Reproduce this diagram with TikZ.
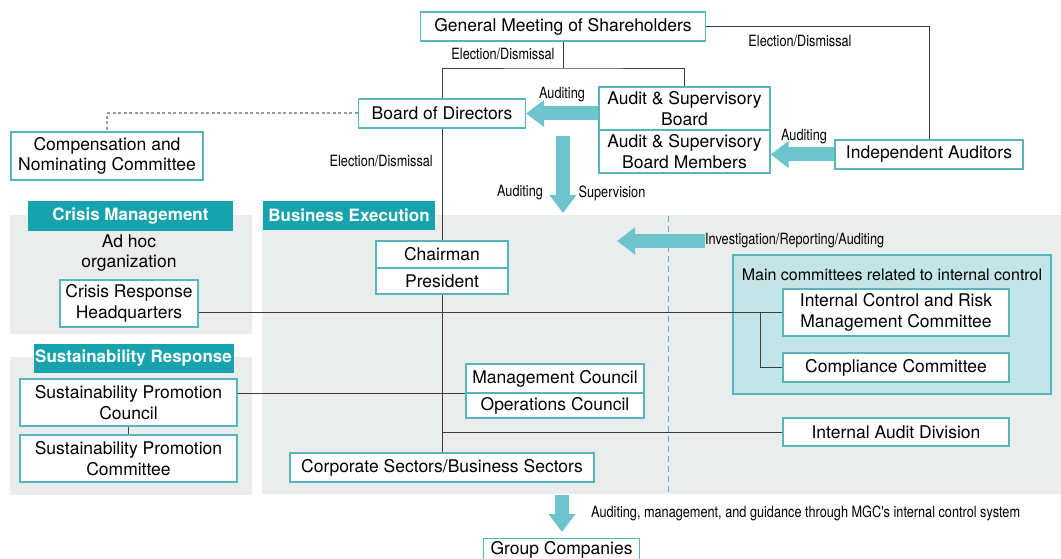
\documentclass[tikz,border=0pt]{standalone}
\usepackage{fontspec}
\setmainfont{TeX Gyre Heros}
\newfontfamily\narrowfont[FakeStretch=0.82]{TeX Gyre Heros}
\usetikzlibrary{arrows.meta}
\definecolor{tealhead}{HTML}{17A3AE}
\definecolor{tealline}{HTML}{55B6BF}
\definecolor{tealarrow}{HTML}{6EC4CC}
\definecolor{tealpale}{HTML}{C4E5E8}
\definecolor{panelgray}{HTML}{EBECEC}
\definecolor{linegray}{HTML}{3C3C3C}
\definecolor{dotgray}{HTML}{9A9A9A}
\begin{document}
\begin{tikzpicture}
[
    x=1pt,y=-1pt,
    box/.style={draw=tealline,fill=white,line width=1.2pt,align=center,inner sep=0pt,font=\fontsize{17.5}{20.5}\selectfont},
    head/.style={fill=tealhead,text=white,inner sep=0pt,font=\bfseries\fontsize{17}{20}\selectfont},
    panel/.style={fill=panelgray},
    frame/.style={draw=tealline,fill=tealpale,line width=1.2pt},
    lbl/.style={font=\narrowfont\fontsize{15.5}{18}\selectfont,inner sep=0pt},
    link/.style={draw=linegray,line width=0.9pt},
    dotline/.style={draw=dotgray,line width=2pt,dash pattern=on 3pt off 2.5pt},
    dashline/.style={draw=tealline,line width=0.9pt,dash pattern=on 6pt off 4pt},
    fat/.style={draw=tealarrow,line width=14pt,-{Triangle[width=26pt,length=18pt]}},
]
\useasboundingbox (0,0) rectangle (1061,559);

% grey panels
\fill[panel] (10,215) rectangle (252,334);
\fill[panel] (10,357) rectangle (252,495);
\fill[panel] (262,215) rectangle (1061,494);
\filldraw[frame] (733,255) rectangle (1051,394);
\draw[dashline] (668,216) -- (668,493);

% section headers
\node (crisishd) at (130.5,216) [head,minimum width=205,minimum height=30] {Crisis Management};
\node (bizhd) at (349,215.5) [head,minimum width=172,minimum height=29] {Business Execution};
\node (susthd) at (133.5,358.5) [head,minimum width=200,minimum height=29] {Sustainability Response};

% top of the structure
\node (gms) at (563,26.5) [box,minimum width=285,minimum height=29] {General Meeting of Shareholders};
\node (bod) at (442,113.5) [box,minimum width=167,minimum height=29] {Board of Directors};
\node (comp) at (107,156) [box,minimum width=192,minimum height=48] {Compensation and\\Nominating Committee};
\node (asb) at (684.5,108.5) [box,minimum width=171,minimum height=43] {Audit \& Supervisory\\Board};
\node (asbm) at (684.5,151.5) [box,minimum width=171,minimum height=43] {Audit \& Supervisory\\Board Members};
\node (ia) at (929,154.5) [box,minimum width=188,minimum height=29] {Independent Auditors};

% business execution
\node (chair) at (442,254.5) [box,minimum width=132,minimum height=27] {Chairman};
\node (pres) at (442,281) [box,minimum width=132,minimum height=26] {President};
\node (mc) at (555,378.5) [box,minimum width=178,minimum height=29] {Management Council};
\node (oc) at (555,405.5) [box,minimum width=178,minimum height=25] {Operations Council};
\node (csbs) at (442,467.5) [box,minimum width=304,minimum height=29] {Corporate Sectors/Business Sectors};
\node (gc) at (561.5,549.5) [box,minimum width=156,minimum height=22] {Group Companies};

% crisis management and sustainability
\node (adhoc) at (129,253) [align=center,inner sep=0pt,font=\fontsize{17.5}{19.5}\selectfont] {Ad hoc\\organization};
\node (crh) at (129,303.5) [box,minimum width=138,minimum height=47] {Crisis Response\\Headquarters};
\node (spc) at (128.5,402.5) [box,minimum width=217,minimum height=47] {Sustainability Promotion\\Council};
\node (spcm) at (128.5,458.5) [box,minimum width=217,minimum height=47] {Sustainability Promotion\\Committee};

% internal control
\node (mainlbl) at (892,275) [inner sep=0pt,font=\fontsize{16}{19}\selectfont] {Main committees related to internal control};
\node (icrm) at (896,312.5) [box,minimum width=226,minimum height=47] {Internal Control and Risk\\Management Committee};
\node (cc) at (896,367.5) [box,minimum width=226,minimum height=29] {Compliance Committee};
\node (iad) at (896,432) [box,minimum width=226,minimum height=28] {Internal Audit Division};

% connectors
\coordinate (gmsjoin) at (563,68);
\draw[link] (gms.south) -- (gmsjoin);
\draw[link] (bod.north) |- (gmsjoin) -| (asb.north);
\draw[link] (gms.east) -| (ia.north);
\draw[dotline] (bod.west) -| (comp.north);
\draw[link] (bod.south) -- (chair.north);
\draw[link] (pres.south) -- (csbs.north);
\draw[link] (crh.east |- icrm.west) -- (icrm.west);
\draw[link] ([xshift=-22pt]icrm.west) |- (cc.west);
\draw[link] (spc.east |- mc.south) -- (mc.south west);
\draw[link] (spc.south) -- (spcm.north);
\draw[link] (pres.south |- iad.west) -- (iad.west);

% labels
\node (elect1) at (503,54) [lbl] {Election/Dismissal};
\node (elect2) at (800,41) [lbl] {Election/Dismissal};
\node (elect3) at (433,161) [lbl,anchor=east] {Election/Dismissal};
\node (aud1) at (562,95) [lbl] {Auditing};
\node (aud2) at (804,137) [lbl] {Auditing};
\node (aud3) at (520,193) [lbl] {Auditing};
\node (superv) at (612,193) [lbl] {Supervision};
\node (invlbl) at (705,241) [lbl,anchor=west] {Investigation/Reporting/Auditing};
\node (guidlbl) at (591,513) [lbl,anchor=west] {Auditing, management, and guidance through MGC's internal control system};

% thick arrows
\coordinate (audtop) at (563,136);
\coordinate (audtip) at (563,213);
\coordinate (invtip) at (617,241);
\coordinate (gctail) at (562,495);
\coordinate (gctip) at (562,532);
\draw[fat] (asb.west |- bod.east) -- (bod.east);
\draw[fat] (ia.west) -- (ia.west -| asbm.east);
\draw[fat] (audtop) -- (audtip);
\draw[fat] (invlbl.west) -- (invtip);
\draw[fat] (gctail) -- (gctip);
\end{tikzpicture}
\end{document}
